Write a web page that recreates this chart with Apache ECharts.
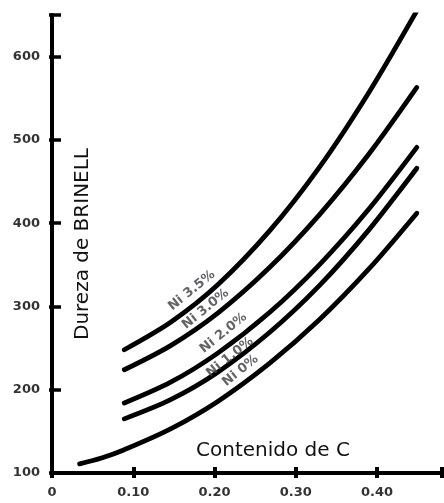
<!DOCTYPE html>
<html>
<head>
<meta charset="utf-8">
<script src="https://cdn.jsdelivr.net/npm/echarts@6/dist/echarts.min.js"></script>
<style>html,body{margin:0;padding:0;background:#fff}#c{width:444px;height:503px}</style>
</head>
<body>
<div id="c"></div>
<script>
// Data: carbon content (x) vs Brinell hardness (y)
var curveNames = ['Ni 3.5%', 'Ni 3.0%', 'Ni 2.0%', 'Ni 1.0%', 'Ni 0%'];
var curve1 = [[0.089,248],[0.146,281],[0.204,326],[0.268,391],[0.329,467],[0.390,557],[0.449,655]];
var curve2 = [[0.089,224],[0.146,253],[0.204,292],[0.268,347],[0.329,410],[0.390,483],[0.449,563]];
var curve3 = [[0.089,184],[0.146,209],[0.204,244],[0.268,293],[0.329,350],[0.390,417],[0.449,491]];
var curve4 = [[0.089,165],[0.146,188],[0.204,221],[0.268,269],[0.329,325],[0.390,392],[0.449,466]];
var curve5 = [[0.034,111],[0.061,118],[0.089,128],[0.146,153],[0.204,186],[0.268,232],[0.329,284],[0.390,345],[0.449,412]];
// label anchor points [x, y] in data units
var labelPoints = [[0.172,319],[0.189,297],[0.211,268],[0.219,239],[0.232,223]];
var xTickLabels = {'0':'0','0.1':'0.10','0.2':'0.20','0.3':'0.30','0.4':'0.40'};
var yTicks = [100,200,300,400,500,600];

var curves = [curve1, curve2, curve3, curve4, curve5];
var font = 'DejaVu Sans';
var chart = echarts.init(document.getElementById('c'));
var series = curves.map(function (d) {
  return {
    type: 'line', data: d, smooth: 0.3, symbol: 'none',
    lineStyle: {color: '#000', width: 4.8, cap: 'round'},
    silent: true, z: 3
  };
});
series.push({
  type: 'scatter', symbolSize: 0, z: 4,
  data: labelPoints.map(function (p, i) { return {value: p, name: curveNames[i]}; }),
  label: {
    show: true, position: 'inside', rotate: 39,
    formatter: function (p) { return p.name; },
    fontFamily: font, fontSize: 13, fontWeight: 'bold', color: '#3d3a42'
  }
});
chart.setOption({
  animation: false,
  backgroundColor: '#fff',
  grid: {left: 52, right: 2, top: 15, bottom: 30, containLabel: false, outerBoundsMode: 'none'},
  xAxis: [{
    type: 'value', min: 0, max: 0.48, interval: 0.1,
    name: 'Contenido de C', nameLocation: 'middle', nameGap: -32, nameMoveOverlap: false,
    nameTextStyle: {fontFamily: font, fontSize: 20, color: '#111', padding: [0, 0, 0, 52]},
    axisLine: {show: true, lineStyle: {color: '#000', width: 4}},
    axisTick: {show: true, inside: true, length: 6, lineStyle: {color: '#000', width: 4}},
    axisLabel: {
      fontFamily: font, fontSize: 13, fontWeight: 'bold', color: '#333', margin: 13,
      formatter: function (v) { var k = String(+v.toFixed(2)); return xTickLabels[k] !== undefined ? xTickLabels[k] : ''; }
    },
    splitLine: {show: false}
  }, {
    type: 'value', min: 0, max: 0.48, interval: 0.1, position: 'bottom',
    axisLine: {show: false},
    axisTick: {show: true, inside: false, length: 5, lineStyle: {color: '#000', width: 4}},
    axisLabel: {show: false}, splitLine: {show: false}
  }],
  yAxis: [{
    type: 'value', min: 100, max: 650, interval: 100,
    name: 'Dureza de BRINELL', nameLocation: 'middle', nameGap: -41, nameRotate: 90, nameMoveOverlap: false,
    nameTextStyle: {fontFamily: font, fontSize: 20, color: '#111'},
    axisLine: {show: true, lineStyle: {color: '#000', width: 4}},
    axisTick: {show: true, inside: true, length: 9, lineStyle: {color: '#000', width: 3.5}},
    axisLabel: {
      fontFamily: font, fontSize: 13, fontWeight: 'bold', color: '#333', margin: 12,
      formatter: function (v) { return yTicks.indexOf(v) >= 0 ? String(v) : ''; }
    },
    splitLine: {show: false}
  }, {
    type: 'value', min: 100, max: 650, interval: 100, position: 'left',
    axisLine: {show: false},
    axisTick: {show: true, inside: false, length: 3, lineStyle: {color: '#000', width: 3.5}},
    axisLabel: {show: false}, splitLine: {show: false}
  }],
  series: series
});
</script>
</body>
</html>
